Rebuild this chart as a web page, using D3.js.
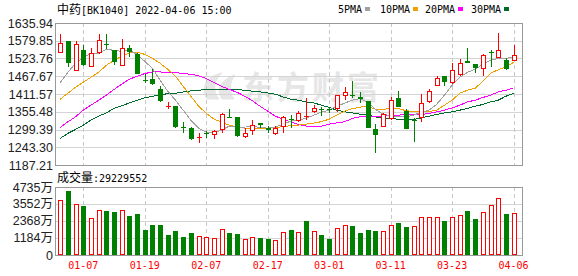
<!DOCTYPE html>
<html lang="zh">
<head>
<meta charset="UTF-8">
<title>中药 BK1040</title>
<script src="https://cdn.jsdelivr.net/npm/d3@7/dist/d3.min.js"></script>
<style>
    body { margin: 0; background: #fff; }
    text { font-family: "DejaVu Sans Mono", "Noto Sans CJK SC", monospace; }
</style>
</head>
<body>
<script>
    // 交易日
    var dates = ["01-04","01-05","01-06","01-07","01-10","01-11","01-12","01-13","01-14","01-17",
        "01-18","01-19","01-20","01-21","01-24","01-25","01-26","01-27","01-28","02-07",
        "02-08","02-09","02-10","02-11","02-14","02-15","02-16","02-17","02-18","02-21",
        "02-22","02-23","02-24","02-25","02-28","03-01","03-02","03-03","03-04","03-07",
        "03-08","03-09","03-10","03-11","03-14","03-15","03-16","03-17","03-18","03-21",
        "03-22","03-23","03-24","03-25","03-28","03-29","03-30","03-31","04-01","04-06"];

    var open = [1542.3,1577.9,1484.3,1549.6,1497,1541,1568.5,1549.6,1500,1558,
        1539,1456,1460.4,1428.9,1373,1373,1306.9,1304.7,1275,1288,
        1281.7,1297.5,1340,1337.5,1274.5,1294.3,1318.6,1303.8,1284.9,1306,
        1334,1326.8,1341,1353.3,1364,1363,1362.7,1406.8,1409,1402.4,
        1387.9,1300.6,1307.9,1332.2,1397.4,1358.3,1330,1334.4,1386.7,1438.3,
        1467.7,1447.8,1473,1514.9,1505.5,1491.9,1545,1525.3,1518,1515.9];
    var high = [1600,1580,1578,1565.3,1558,1600,1600,1551.8,1584,1565,
        1541,1476,1491.9,1436,1386.7,1374,1323.6,1307.9,1289,1294.3,
        1297.5,1350,1362.7,1338,1302.8,1329,1319,1310,1310,1341,
        1344.8,1357.4,1397.4,1376.3,1369,1369,1408,1433.9,1451.9,1418.2,
        1389,1316.4,1350,1402.4,1420.4,1362.7,1334.4,1410.9,1426.7,1467.7,
        1468,1510.8,1521.2,1556.8,1507.7,1539,1551.8,1604,1526.6,1565.3];
    var low = [1540,1497,1483,1500,1496,1539,1555,1502.3,1499,1528.5,
        1475,1446.5,1439.3,1386.7,1362.7,1302.8,1289,1266,1257.5,1271.3,
        1270,1287,1336,1274.5,1274,1281.7,1302.8,1287,1281.7,1287,
        1302.8,1323.6,1329,1353,1341.6,1350,1355,1394,1400.5,1383.5,
        1303,1226,1307,1329,1370,1300,1260.6,1323.6,1383.5,1438,
        1437,1444.6,1467.7,1509,1478,1468.6,1497,1524,1488.8,1515];
    var close = [1573.8,1509.6,1568.5,1502.3,1542.3,1581,1566,1512.7,1558,1544,
        1476,1452,1444.6,1389.8,1375,1307.9,1303.8,1268.2,1277,1284.9,
        1294.3,1347,1338,1278.6,1287,1313.3,1312.3,1297.5,1302.8,1339.4,
        1331,1350,1343,1365.9,1362,1361.5,1407.8,1417.2,1406.5,1394.2,
        1304.7,1281.7,1347,1392,1370.9,1301.6,1328,1381.6,1420.4,1463.6,
        1449.7,1486.6,1510.8,1509.6,1493.8,1536,1543,1549.6,1489.7,1533.8];

    // 成交量（万）
    var volume = [3812,4458,3581,3396,2587,3119,3049,2980,3119,2703,
        2841,1733,2079,2079,1386,1663,1271,1525,1317,1271,
        1201,1802,1525,1455,1109,1247,1178,1109,1016,1594,
        1732,1571,2356,1663,1386,1109,1848,2056,2010,1525,
        1733,1663,1663,2079,2218,1940,2010,2680,2680,2680,
        2356,2680,2772,3049,2495,3026,3511,3996,2841,2923];
    var lastVolume = "29229552";

    var ma5 = [1447.8,1480.2,1508.6,1527.5,1539.1,1540.1,1552.7,1549.6,1546.4,1549.6,
        1537,1514.9,1492.8,1455,1420.4,1392,1360.5,1329,1303.8,1291.2,
        1288,1297.5,1310.1,1306.9,1306.9,1310.1,1305.4,1303.8,1306.9,1316.4,
        1325.8,1329,1335.3,1344.7,1354.2,1360.5,1373.1,1382.5,1392,1396.7,
        1385.7,1363.6,1347.9,1343.2,1340,1338.4,1344.8,1354.2,1360.5,1379.4,
        1407.8,1439.3,1464.5,1480.2,1489.7,1505.4,1518,1524.3,1524.3,1527.5];
    var ma10 = [1395.2,1414.1,1433,1448.7,1464.5,1480.2,1502.3,1518,1530.7,1541.7,
        1543.3,1537,1524.3,1508.6,1489.7,1467.6,1436.1,1404.6,1373.1,1351,
        1332.1,1322.7,1313.2,1306.9,1303.8,1303.8,1303.8,1303.8,1305.4,1308.5,
        1311.7,1313.2,1316.4,1319.5,1324.3,1332.1,1344.8,1357.3,1365.2,1370,
        1373.1,1363.6,1363.6,1365.2,1365.2,1358.9,1355.8,1357.4,1355.8,1360.5,
        1376.3,1392,1414.1,1423.5,1429.8,1451.9,1477.1,1488.1,1497.6,1511.7];
    var ma20 = [1306,1323.6,1339.4,1360.5,1376.3,1392,1407.8,1425.7,1442.4,1458.2,
        1467.6,1476.1,1481.2,1481.2,1479.3,1479.3,1476.1,1473.9,1469.2,1460.4,
        1448.7,1436.1,1425.7,1417.2,1404.6,1390.4,1373.1,1357.3,1341.6,1332.1,
        1323.6,1315.4,1310.1,1310.1,1310.1,1316.4,1320.5,1323.6,1334.3,1339.4,
        1341.6,1341.6,1341.6,1343.8,1344.8,1347,1346.3,1347,1350.1,1355.1,
        1360.5,1367.7,1376.3,1386.7,1392,1400.5,1407.8,1418.2,1423.5,1430.8];
    var ma30 = [1271.3,1287.1,1299.7,1313.2,1329,1341.6,1352,1365.9,1374,1383.5,
        1392,1399.3,1404.6,1407.8,1413.1,1414.1,1418.2,1421.3,1423.5,1425.7,
        1426.7,1426.7,1426.7,1425.7,1423.5,1420.4,1418.2,1415,1410.9,1402.4,
        1395.2,1392,1386.6,1383.5,1376.3,1369,1360.5,1355.1,1352,1347.9,
        1344.8,1339.4,1334.3,1333.7,1332.1,1332.1,1331.2,1336.2,1341.6,1347,
        1352,1355.1,1360.5,1365.8,1373.1,1378.4,1386.6,1392,1404.6,1413.1];

    var priceTicks = ["1187.21","1243.30","1299.39","1355.48","1411.57","1467.67","1523.76","1579.85","1635.94"];
    var volTicks = [0, 1184, 2368, 3552, 4735];
    var tickDates = ["01-07","01-19","02-07","02-17","03-01","03-11","03-23","04-06"];

    var maList = [
        {name: "5PMA", data: ma5, color: "#a0a0a0"},
        {name: "10PMA", data: ma10, color: "#f0a000"},
        {name: "20PMA", data: ma20, color: "#ff00ff"},
        {name: "30PMA", data: ma30, color: "#006a2e"}
    ];

    var UP = "#ff0000", DOWN = "#008000";
    var W = 578, H = 276;
    var L = 55, R = 522, pTop = 23, pBot = 165, vTop = 187, vBot = 255;

    var svg = d3.select("body").append("svg")
        .attr("width", W)
        .attr("height", H);

    var x = d3.scaleLinear().domain([0, dates.length - 1]).range([60.2, 513.6]);
    var yP = d3.scaleLinear().domain([+priceTicks[0], +priceTicks[priceTicks.length - 1]]).range([pBot, pTop]);
    var yV = d3.scaleLinear().domain([0, volTicks[volTicks.length - 1]]).range([vBot, vTop]);

    function px(v) { return Math.round(v) + 0.5; }

    // 水印
    var wm = svg.append("g").attr("fill", "#e6e6e6").attr("stroke", "#e6e6e6");
    wm.append("path")
        .attr("d", "M207,99 C200,88 206,76 222,73 C214,80 212,90 219,99 Z M222,99 C216,90 220,80 235,75 C229,83 229,92 234,99 Z")
        .attr("stroke-width", 1);
    wm.append("text")
        .attr("x", 242).attr("y", 99)
        .attr("stroke", "none")
        .style("font-family", "'Noto Sans CJK SC'")
        .style("font-size", "32px")
        .style("font-weight", "bold")
        .style("letter-spacing", "3px")
        .text("东方财富");

    // 横向网格
    svg.append("g").selectAll("line")
        .data(priceTicks.slice(1, -1))
        .enter().append("line")
        .attr("x1", L).attr("x2", R)
        .attr("y1", function (d) { return px(yP(+d)); })
        .attr("y2", function (d) { return px(yP(+d)); })
        .attr("stroke", "#d4d4d4");
    svg.append("g").selectAll("line")
        .data(volTicks.slice(1, -1))
        .enter().append("line")
        .attr("x1", L).attr("x2", R)
        .attr("y1", function (d) { return px(yV(d)); })
        .attr("y2", function (d) { return px(yV(d)); })
        .attr("stroke", "#d4d4d4");

    // 竖向虚线
    var tickIdx = tickDates.map(function (d) { return dates.indexOf(d); });
    [[pTop, pBot], [vTop, vBot]].forEach(function (r) {
        svg.append("g").selectAll("line")
            .data(tickIdx)
            .enter().append("line")
            .attr("x1", function (i) { return px(x(i)); })
            .attr("x2", function (i) { return px(x(i)); })
            .attr("y1", r[0]).attr("y2", r[1])
            .attr("stroke", "#c8c8c8")
            .attr("stroke-dasharray", "4,3");
    });

    // 均线
    var clip = svg.append("clipPath").attr("id", "pclip");
    clip.append("rect").attr("x", L).attr("y", pTop).attr("width", R - L).attr("height", pBot - pTop);
    var line = d3.line()
        .x(function (d, i) { return x(i); })
        .y(function (d) { return yP(d); });
    svg.append("g").attr("clip-path", "url(#pclip)")
        .selectAll("path")
        .data(maList.slice().reverse())
        .enter().append("path")
        .attr("d", function (d) { return line(d.data); })
        .attr("fill", "none")
        .attr("stroke", function (d) { return d.color; })
        .attr("stroke-width", 1)
        .attr("shape-rendering", "crispEdges");

    // K线
    var candles = svg.append("g").selectAll("g")
        .data(d3.range(dates.length))
        .enter().append("g")
        .attr("shape-rendering", "crispEdges");
    candles.each(function (i) {
        var g = d3.select(this);
        var up = close[i] >= open[i];
        var c = up ? UP : DOWN;
        var cx = px(x(i));
        var top = Math.round(yP(Math.max(open[i], close[i])));
        var bot = Math.round(yP(Math.min(open[i], close[i])));
        var hi = Math.round(yP(high[i])), lo = Math.round(yP(low[i]));
        if (bot - top < 2) {
            g.append("line").attr("x1", cx).attr("x2", cx).attr("y1", hi).attr("y2", lo).attr("stroke", c);
            g.append("line").attr("x1", cx - 2.5).attr("x2", cx + 2.5).attr("y1", top + 0.5).attr("y2", top + 0.5).attr("stroke", c);
            return;
        }
        g.append("line").attr("x1", cx).attr("x2", cx).attr("y1", hi).attr("y2", top).attr("stroke", c);
        g.append("line").attr("x1", cx).attr("x2", cx).attr("y1", bot).attr("y2", lo).attr("stroke", c);
        if (up) {
            g.append("rect").attr("x", cx - 2).attr("y", top + 0.5)
                .attr("width", 4).attr("height", bot - top - 1)
                .attr("fill", "#fff").attr("stroke", c);
        } else {
            g.append("rect").attr("x", cx - 2.5).attr("y", top)
                .attr("width", 5).attr("height", bot - top)
                .attr("fill", c);
        }
    });

    // 成交量：颜色按收盘价与前一日收盘比较
    svg.append("g").attr("shape-rendering", "crispEdges")
        .selectAll("rect")
        .data(volume)
        .enter().append("rect")
        .each(function (v, i) {
            var up = i === 0 ? close[i] >= open[i] : close[i] >= close[i - 1];
            var cx = px(x(i));
            var t = Math.round(yV(v));
            var r = d3.select(this);
            if (up) {
                r.attr("x", cx - 2).attr("y", t + 0.5).attr("width", 4).attr("height", vBot - t - 1)
                    .attr("fill", "#fff").attr("stroke", UP);
            } else {
                r.attr("x", cx - 2.5).attr("y", t).attr("width", 5).attr("height", vBot - t)
                    .attr("fill", DOWN);
            }
        });

    // 边框
    [[pTop, pBot], [vTop, vBot]].forEach(function (r) {
        svg.append("rect")
            .attr("x", L + 0.5).attr("y", r[0] + 0.5)
            .attr("width", R - L).attr("height", r[1] - r[0])
            .attr("fill", "none").attr("stroke", "#999");
    });

    // 坐标文字
    svg.append("g").selectAll("text")
        .data(priceTicks)
        .enter().append("text")
        .attr("x", 53)
        .attr("y", function (d) { return yP(+d) + 4.5; })
        .attr("text-anchor", "end")
        .style("font-family", "'Liberation Sans', Arial")
        .style("font-size", "12.5px")
        .attr("fill", "#222")
        .text(function (d) { return d; });
    svg.append("g").selectAll("text")
        .data(volTicks)
        .enter().append("text")
        .attr("x", 53)
        .attr("y", function (d) { return yV(d) + 4.5; })
        .attr("text-anchor", "end")
        .style("font-family", "'Liberation Sans', 'Noto Sans CJK SC'")
        .style("font-size", "12.5px")
        .attr("fill", "#222")
        .text(function (d) { return d === 0 ? "0" : d + "万"; });
    svg.append("g").selectAll("text")
        .data(tickIdx)
        .enter().append("text")
        .attr("x", function (i) { return x(i); })
        .attr("y", 269)
        .attr("text-anchor", "middle")
        .style("font-size", "10px")
        .attr("fill", "#ff0000")
        .text(function (i) { return dates[i]; });

    // 标题
    var title = svg.append("text").attr("x", 57).attr("y", 13.5).attr("fill", "#000").style("font-size", "10px");
    title.append("tspan").style("font-family", "'Noto Sans CJK SC'").style("font-size", "12px").text("中药");
    title.append("tspan").text("[BK1040] 2022-04-06 15:00");

    var vt = svg.append("text").attr("x", 57).attr("y", 182).attr("fill", "#000").style("font-size", "10px");
    vt.append("tspan").style("font-family", "'Noto Sans CJK SC'").style("font-size", "12px").text("成交量");
    vt.append("tspan").text(":" + lastVolume);

    // 图例
    var lx = [338, 380, 425, 471];
    var lg = svg.append("g").selectAll("g")
        .data(maList)
        .enter().append("g")
        .attr("transform", function (d, i) { return "translate(" + lx[i] + ",0)"; });
    lg.append("text").attr("x", 0).attr("y", 12.5).style("font-size", "10px").attr("fill", "#000")
        .text(function (d) { return d.name; });
    lg.append("rect")
        .attr("x", function (d) { return d.name.length * 6 + 3; })
        .attr("y", 7).attr("width", 5).attr("height", 4)
        .attr("fill", function (d) { return d.color; });
</script>
</body>
</html>
